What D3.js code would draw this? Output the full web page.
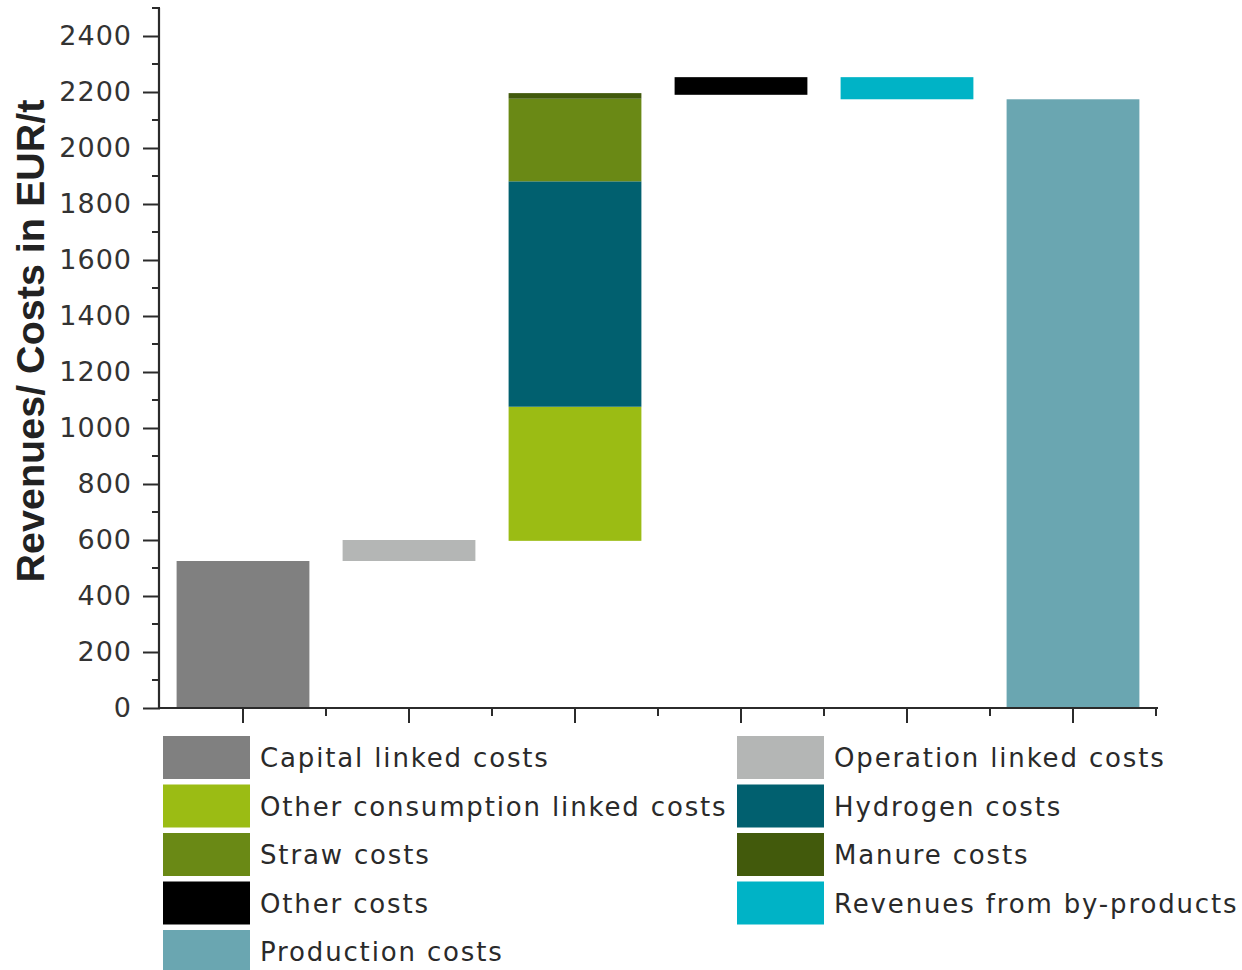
<!DOCTYPE html>
<html><head><meta charset="utf-8">
<script src="https://cdn.jsdelivr.net/npm/d3@7"></script>
<style>body{margin:0;background:#fff}svg{display:block}</style>
</head><body>
<svg id="chart" width="1242" height="970"></svg>
<script>
// Data
const categories = ["Capital", "Operation", "Consumption", "Other", "ByProducts", "Production"];
const seriesNames = ["Capital linked costs","Operation linked costs","Other consumption linked costs","Hydrogen costs","Straw costs","Manure costs","Other costs","Revenues from by-products","Production costs"];
const seriesColors = ["#808080","#b4b6b5","#9bbc14","#01606f","#6a8915","#425a0c","#000000","#00b3c6","#6aa6b1"];
const seriesCat = [0, 1, 2, 2, 2, 2, 3, 4, 5];
const seriesFrom = [0, 525, 597, 1076, 1881, 2176, 2190, 2253, 0];
const seriesTo = [525, 600, 1076, 1881, 2176, 2196, 2253, 2174, 2174];
const yTicks = [0,200,400,600,800,1000,1200,1400,1600,1800,2000,2200,2400];

const svg = d3.select("#chart");
const x = d3.scaleLinear().domain([0.5, 6.5]).range([160, 1156]);
const y = d3.scaleLinear().domain([0, 2500]).range([708, 8]);
const bw = 0.8;

// bars
const g = svg.append("g");
seriesNames.forEach((s, i) => {
  const c = seriesCat[i] + 1;
  const y0 = Math.min(seriesFrom[i], seriesTo[i]), y1 = Math.max(seriesFrom[i], seriesTo[i]);
  g.append("rect")
    .attr("x", x(c - bw/2)).attr("width", x(c + bw/2) - x(c - bw/2))
    .attr("y", y(y1)).attr("height", y(y0) - y(y1))
    .attr("fill", seriesColors[i]);
});

// y axis
const axisColor = "#2b2b2b";
const yAxis = d3.axisLeft(y).tickValues(yTicks).tickSize(17).tickPadding(11).tickFormat(d3.format("d"));
const ya = svg.append("g").attr("transform", "translate(160,0)").call(yAxis);
ya.select(".domain").attr("stroke", axisColor).attr("stroke-width", 2.2).attr("d", "M-1,708V8");
ya.selectAll(".tick line").attr("stroke", axisColor).attr("stroke-width", 2);
ya.selectAll(".tick text").attr("font-family", "DejaVu Sans, sans-serif").attr("font-size", 27)
  .attr("letter-spacing", 1).attr("fill", "#333");
// minor y ticks
const minorY = d3.range(100, 2600, 200);
svg.append("g").selectAll("line").data(minorY).join("line")
  .attr("x1", 152).attr("x2", 160).attr("y1", d => y(d)).attr("y2", d => y(d))
  .attr("stroke", axisColor).attr("stroke-width", 2);

// x axis
const xa = svg.append("g").attr("transform", "translate(0,708)");
xa.append("line").attr("x1", 159).attr("x2", 1158).attr("y1", 0).attr("y2", 0).attr("stroke", axisColor).attr("stroke-width", 2.2);
xa.selectAll(".maj").data(d3.range(1, 7)).join("line").attr("class","maj")
  .attr("x1", d => x(d)).attr("x2", d => x(d)).attr("y1", 0).attr("y2", 15)
  .attr("stroke", axisColor).attr("stroke-width", 2);
xa.selectAll(".min").data(d3.range(1.5, 7, 1)).join("line").attr("class","min")
  .attr("x1", d => x(d)).attr("x2", d => x(d)).attr("y1", 0).attr("y2", 8)
  .attr("stroke", axisColor).attr("stroke-width", 2);

// y label
svg.append("text").attr("transform", "translate(44,341) rotate(-90)")
  .attr("text-anchor", "middle").attr("font-family", "Liberation Sans, Arial, sans-serif")
  .attr("font-weight", "bold").attr("font-size", 39.5).attr("fill", "#222")
  .text("Revenues/ Costs in EUR/t");

// legend
const leg = svg.append("g");
seriesNames.forEach((name, k) => {
  const col = k % 2, row = Math.floor(k / 2);
  const lx = col === 0 ? 163 : 737;
  const ly = 736 + row * 48.5;
  leg.append("rect").attr("x", lx).attr("y", ly).attr("width", 87).attr("height", 43).attr("fill", seriesColors[k]);
  leg.append("text").attr("x", lx + 97).attr("y", ly + 31)
    .attr("font-family", "DejaVu Sans, sans-serif").attr("font-size", 26).attr("letter-spacing", 1.85)
    .attr("fill", "#2a2a2a")
    .text(name);
});
</script>
</body></html>
